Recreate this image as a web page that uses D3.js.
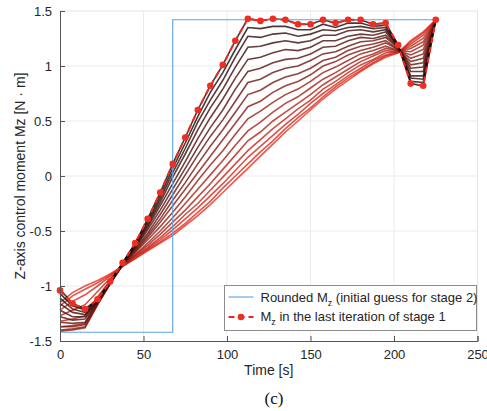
<!DOCTYPE html>
<html>
<head>
<meta charset="utf-8">
<script src="https://cdn.jsdelivr.net/npm/d3@7"></script>
<style>
  body { margin: 0; background: #fff; }
  text { font-family: "Liberation Sans", Arial, sans-serif; }
</style>
</head>
<body>
<svg id="chart" width="487" height="411"></svg>
<script>
// time grid of the optimisation (s)
const timeSec = [0, 7.5, 15, 22.5, 30, 37.5, 45, 52.5, 60, 67.5, 75, 82.5, 90, 97.5, 105, 112.5,
  120, 127.5, 135, 142.5, 150, 157.5, 165, 172.5, 180, 187.5, 195, 202.5, 210, 217.5, 225];

// Mz of each iteration of stage 1, first (red) to last (black)
const iterationMz = [
  [-1.15,-1.06,-1.00,-0.95,-0.89,-0.82,-0.75,-0.68,-0.61,-0.54,-0.45,-0.36,-0.26,-0.15,-0.04,0.07,0.18,0.29,0.40,0.50,0.60,0.70,0.79,0.87,0.95,1.02,1.08,1.12,1.23,1.31,1.42],
  [-1.18,-1.09,-1.03,-0.97,-0.90,-0.82,-0.75,-0.67,-0.60,-0.52,-0.43,-0.33,-0.23,-0.11,0.00,0.11,0.22,0.32,0.43,0.53,0.62,0.72,0.81,0.89,0.96,1.03,1.09,1.12,1.22,1.30,1.42],
  [-1.22,-1.14,-1.08,-1.00,-0.91,-0.82,-0.74,-0.66,-0.58,-0.49,-0.39,-0.29,-0.18,-0.07,0.05,0.17,0.27,0.37,0.47,0.56,0.66,0.75,0.83,0.91,0.98,1.05,1.10,1.13,1.20,1.28,1.42],
  [-1.27,-1.22,-1.17,-1.05,-0.93,-0.82,-0.73,-0.65,-0.56,-0.46,-0.35,-0.25,-0.13,-0.01,0.11,0.23,0.33,0.43,0.52,0.61,0.69,0.79,0.86,0.94,1.01,1.06,1.12,1.13,1.18,1.25,1.42],
  [-1.32,-1.30,-1.27,-1.10,-0.95,-0.81,-0.72,-0.63,-0.53,-0.42,-0.31,-0.19,-0.07,0.06,0.19,0.32,0.40,0.50,0.58,0.66,0.74,0.83,0.90,0.97,1.04,1.09,1.14,1.13,1.16,1.22,1.42],
  [-1.37,-1.36,-1.34,-1.14,-0.96,-0.81,-0.72,-0.61,-0.50,-0.38,-0.25,-0.12,0.01,0.14,0.28,0.41,0.49,0.58,0.66,0.72,0.80,0.88,0.94,1.01,1.07,1.11,1.16,1.14,1.13,1.19,1.42],
  [-1.41,-1.40,-1.38,-1.17,-0.98,-0.81,-0.70,-0.58,-0.46,-0.33,-0.19,-0.04,0.10,0.23,0.38,0.52,0.59,0.67,0.74,0.79,0.86,0.94,0.99,1.05,1.11,1.14,1.18,1.14,1.10,1.15,1.42],
  [-1.40,-1.39,-1.37,-1.17,-0.98,-0.81,-0.69,-0.56,-0.42,-0.27,-0.12,0.03,0.18,0.33,0.48,0.63,0.68,0.76,0.82,0.86,0.92,1.00,1.04,1.10,1.14,1.17,1.21,1.15,1.07,1.11,1.42],
  [-1.37,-1.37,-1.35,-1.16,-0.98,-0.81,-0.68,-0.54,-0.39,-0.22,-0.06,0.11,0.27,0.42,0.58,0.74,0.78,0.85,0.90,0.93,0.98,1.05,1.08,1.14,1.18,1.20,1.23,1.15,1.04,1.07,1.42],
  [-1.33,-1.34,-1.33,-1.16,-0.98,-0.80,-0.67,-0.52,-0.35,-0.17,0.01,0.19,0.36,0.51,0.68,0.85,0.88,0.94,0.98,1.00,1.05,1.11,1.13,1.18,1.22,1.23,1.26,1.16,1.01,1.03,1.42],
  [-1.28,-1.31,-1.30,-1.15,-0.97,-0.80,-0.66,-0.49,-0.31,-0.12,0.07,0.26,0.44,0.60,0.79,0.95,0.98,1.03,1.06,1.07,1.11,1.17,1.18,1.23,1.26,1.25,1.28,1.17,0.98,0.99,1.42],
  [-1.22,-1.28,-1.28,-1.14,-0.97,-0.80,-0.65,-0.47,-0.27,-0.07,0.13,0.34,0.53,0.70,0.89,1.06,1.08,1.12,1.15,1.14,1.17,1.23,1.23,1.27,1.29,1.28,1.31,1.17,0.95,0.95,1.42],
  [-1.16,-1.24,-1.26,-1.14,-0.97,-0.80,-0.64,-0.45,-0.24,-0.01,0.20,0.42,0.62,0.79,0.99,1.17,1.18,1.21,1.23,1.21,1.23,1.28,1.28,1.32,1.33,1.31,1.33,1.18,0.91,0.91,1.42],
  [-1.11,-1.21,-1.24,-1.13,-0.97,-0.79,-0.63,-0.43,-0.21,0.03,0.25,0.49,0.69,0.87,1.08,1.27,1.26,1.29,1.30,1.27,1.29,1.33,1.32,1.35,1.36,1.34,1.35,1.18,0.89,0.88,1.42],
  [-1.07,-1.18,-1.22,-1.12,-0.96,-0.79,-0.62,-0.41,-0.18,0.07,0.30,0.54,0.76,0.94,1.15,1.35,1.34,1.36,1.36,1.33,1.33,1.38,1.35,1.39,1.39,1.36,1.37,1.19,0.86,0.85,1.42],
  [-1.03,-1.16,-1.21,-1.12,-0.96,-0.79,-0.61,-0.39,-0.15,0.11,0.35,0.60,0.82,1.01,1.23,1.43,1.41,1.43,1.42,1.38,1.38,1.42,1.39,1.42,1.42,1.38,1.39,1.19,0.84,0.82,1.42]
];

// Mz in the last iteration of stage 1 (red dashed with dots)
const lastMz = [-1.04,-1.16,-1.21,-1.12,-0.96,-0.79,-0.61,-0.39,-0.15,0.11,0.35,0.60,0.82,1.01,1.23,1.43,
  1.41,1.43,1.42,1.38,1.38,1.42,1.39,1.42,1.42,1.38,1.39,1.19,0.84,0.82,1.42];

// rounded Mz (bang-bang initial guess for stage 2)
const roundedTime = [0, 67.5, 225];
const roundedMz = [-1.42, 1.42, 1.42];

const xTicks = [0, 50, 100, 150, 200, 250];
const yTicks = [-1.5, -1, -0.5, 0, 0.5, 1, 1.5];

const svg = d3.select('#chart');
const margin = { left: 60, right: 9.5, top: 11, bottom: 70 };
const W = 487, H = 411;

const xScale = d3.scaleLinear().domain([0, 250]).range([margin.left, W - margin.right]);
const yScale = d3.scaleLinear().domain([-1.5, 1.5]).range([H - margin.bottom, margin.top]);

// grid
svg.append('g').selectAll('line').data(xTicks.slice(1, -1)).join('line')
  .attr('x1', d => xScale(d)).attr('x2', d => xScale(d))
  .attr('y1', yScale(-1.5)).attr('y2', yScale(1.5))
  .attr('stroke', '#ebebeb').attr('stroke-width', 1);
svg.append('g').selectAll('line').data(yTicks.slice(1, -1)).join('line')
  .attr('x1', xScale(0)).attr('x2', xScale(250))
  .attr('y1', d => yScale(d)).attr('y2', d => yScale(d))
  .attr('stroke', '#ebebeb').attr('stroke-width', 1);

// box top/right
svg.append('path')
  .attr('d', `M${xScale(0)},${yScale(1.5)}H${xScale(250)}V${yScale(-1.5)}`)
  .attr('fill', 'none').attr('stroke', '#e3e3e3');

const plot = svg.append('g');

const line = d3.line().x((d, i) => xScale(timeSec[i])).y(d => yScale(d));
const iterColor = d3.interpolateRgb('rgb(235,45,30)', 'rgb(15,5,5)');
const n = iterationMz.length;

plot.selectAll('path.iter').data(iterationMz).join('path')
  .attr('class', 'iter')
  .attr('d', line)
  .attr('fill', 'none')
  .attr('stroke', (d, i) => iterColor(i / (n - 1)))
  .attr('stroke-opacity', 0.8)
  .attr('stroke-width', 1.6);

// rounded Mz
const stepLine = d3.line().curve(d3.curveStepAfter)
  .x((d, i) => xScale(roundedTime[i])).y(d => yScale(d));
plot.append('path')
  .attr('d', stepLine(roundedMz))
  .attr('fill', 'none')
  .attr('stroke', '#5ea3e4')
  .attr('stroke-width', 1.1);

// last iteration
plot.append('path')
  .attr('d', line(lastMz))
  .attr('fill', 'none')
  .attr('stroke', '#f0281e')
  .attr('stroke-width', 2)
  .attr('stroke-dasharray', '6,4');
plot.selectAll('circle').data(lastMz).join('circle')
  .attr('cx', (d, i) => xScale(timeSec[i]))
  .attr('cy', d => yScale(d))
  .attr('r', 3.3)
  .attr('fill', '#ee2e22');

// axes
const xAxis = d3.axisBottom(xScale).tickValues(xTicks).tickSize(-5).tickPadding(9).tickFormat(d3.format('d'));
const yAxis = d3.axisLeft(yScale).tickValues(yTicks).tickSize(-5).tickPadding(8).tickFormat(d => d3.format('')(d).replace('−', '-'));

const gx = svg.append('g').attr('transform', `translate(0,${yScale(-1.5)})`).call(xAxis);
const gy = svg.append('g').attr('transform', `translate(${xScale(0)},0)`).call(yAxis);
[gx, gy].forEach(g => {
  g.select('.domain').attr('stroke', '#555');
  g.selectAll('.tick line').attr('stroke', '#555');
  g.selectAll('.tick text').attr('fill', '#262626').style('font-size', '13px');
});

svg.append('text')
  .attr('x', (xScale(0) + xScale(250)) / 2).attr('y', 375)
  .attr('text-anchor', 'middle').attr('fill', '#262626').style('font-size', '14px')
  .text('Time [s]');

svg.append('text')
  .attr('transform', `translate(25,${(yScale(-1.5) + yScale(1.5)) / 2}) rotate(-90)`)
  .attr('text-anchor', 'middle').attr('fill', '#262626').style('font-size', '14px')
  .text('Z-axis control moment Mz [N · m]');

svg.append('text')
  .attr('x', 274).attr('y', 404)
  .attr('text-anchor', 'middle').attr('fill', '#111')
  .style('font-family', '"Liberation Serif", "Times New Roman", serif').style('font-size', '17px')
  .text('(c)');

// legend
const lg = svg.append('g').attr('transform', 'translate(224.5,285.5)');
lg.append('rect').attr('width', 252).attr('height', 45)
  .attr('fill', '#fff').attr('stroke', '#8c8c8c');
lg.append('line').attr('x1', 4).attr('x2', 29).attr('y1', 11.5).attr('y2', 11.5)
  .attr('stroke', '#5ea3e4').attr('stroke-width', 1.1);
lg.append('line').attr('x1', 4).attr('x2', 29).attr('y1', 31.5).attr('y2', 31.5)
  .attr('stroke', '#f0281e').attr('stroke-width', 2).attr('stroke-dasharray', '6,4');
lg.append('circle').attr('cx', 16.5).attr('cy', 31.5).attr('r', 3.3).attr('fill', '#ee2e22');

const t1 = lg.append('text').attr('x', 36).attr('y', 16).attr('fill', '#262626').style('font-size', '13px');
t1.append('tspan').text('Rounded M');
t1.append('tspan').attr('dy', 4).style('font-size', '9px').text('z');
t1.append('tspan').attr('dy', -4).text(' (initial guess for stage 2)');

const t2 = lg.append('text').attr('x', 36).attr('y', 35).attr('fill', '#262626').style('font-size', '13px');
t2.append('tspan').text('M');
t2.append('tspan').attr('dy', 4).style('font-size', '9px').text('z');
t2.append('tspan').attr('dy', -4).text(' in the last iteration of stage 1');
</script>
</body>
</html>
